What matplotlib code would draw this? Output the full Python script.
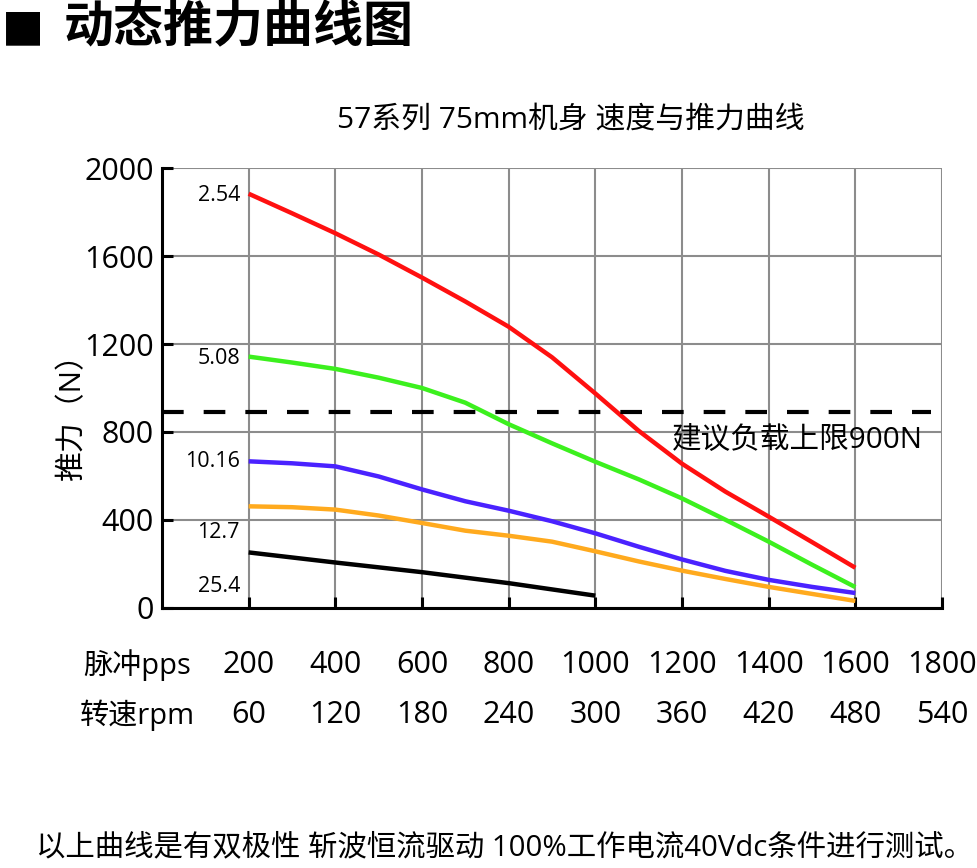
import numpy as np
import matplotlib.pyplot as plt
from matplotlib.transforms import blended_transform_factory

plt.rcParams['font.family'] = ['Open Sans', 'Noto Sans CJK SC', 'DejaVu Sans']

# pulse frequency (pps) and matching speed (rpm)
pps_ticks = [200, 400, 600, 800, 1000, 1200, 1400, 1600, 1800]
rpm_ticks = [60, 120, 180, 240, 300, 360, 420, 480, 540]

pps = [200, 300, 400, 500, 600, 700, 800, 900, 1000, 1100, 1200, 1300, 1400, 1500, 1600]
thrust_254 = [1885, 1796, 1705, 1608, 1503, 1394, 1279, 1140, 975, 805, 655, 528, 414, 298, 181]
thrust_508 = [1143, 1116, 1087, 1047, 1000, 933, 835, 748, 664, 584, 497, 400, 300, 195, 93]
thrust_1016 = [666, 657, 643, 597, 538, 484, 441, 393, 338, 277, 219, 167, 126, 94, 66]
thrust_127 = [461, 457, 446, 419, 385, 350, 327, 300, 256, 210, 168, 130, 94, 62, 30]
pps_black = [200, 400, 600, 800, 1000]
thrust_254b = [251, 205, 161, 111, 54]

leads = ['2.54', '5.08', '10.16', '12.7', '25.4']
lead_label_y = [1879, 1133, 664, 341, 94]
limit = 890

fig = plt.figure(figsize=(9.77, 8.68), dpi=100)
ax = fig.add_axes([0.1658, 0.3001, 0.7984, 0.5058])

kw = dict(lw=3.2, solid_capstyle='butt', solid_joinstyle='round', zorder=3)
ax.plot(pps, thrust_254, color='#FF1010', **kw)
ax.plot(pps, thrust_508, color='#3CF01E', **kw)
ax.plot(pps, thrust_1016, color='#4A22FF', **kw)
ax.plot(pps, thrust_127, color='#FFAA1E', **kw)
ax.plot(pps_black, thrust_254b, color='black', **kw)

ax.plot([0, 1775], [limit, limit], color='black', lw=3, dashes=(5.2, 4.8), zorder=3)
ax.text(1177, 760, '建议负载上限900N', fontsize=21.3, ha='left', va='center')

for lab, yv in zip(leads, lead_label_y):
    ax.text(180, yv, lab, fontsize=15.5, ha='right', va='center')

ax.set_xlim(0, 1800)
ax.set_ylim(0, 2000)
ax.set_xticks(range(0, 1801, 200))
ax.set_yticks(range(0, 2001, 400))
ax.set_xticklabels([])
ax.grid(True, color='#8c8c8c', lw=1.5)
ax.set_axisbelow(True)
for s in ['top', 'right']:
    ax.spines[s].set_visible(False)
for s in ['left', 'bottom']:
    ax.spines[s].set_linewidth(2.2)
    ax.spines[s].set_zorder(4)
ax.tick_params(axis='both', direction='in', length=8, width=2.2)
ax.tick_params(axis='y', labelsize=22, pad=6)
ax.set_xticks(pps_ticks)

fig.text(73 / 977, 1 - 409 / 868, '推力（N）', fontsize=21.5, rotation=90, ha='center', va='center')

trans = blended_transform_factory(ax.transData, fig.transFigure)
for p, r in zip(pps_ticks, rpm_ticks):
    ax.text(p, 1 - 665 / 868, str(p), transform=trans, fontsize=22, ha='center', va='center')
    ax.text(p, 1 - 715 / 868, str(r), transform=trans, fontsize=22, ha='center', va='center')
fig.text(137 / 977, 1 - 665 / 868, '脉冲pps', fontsize=21, ha='center', va='center')
fig.text(137 / 977, 1 - 715 / 868, '转速rpm', fontsize=21, ha='center', va='center')

fig.text(571 / 977, 1 - 120 / 868, '57系列 75mm机身 速度与推力曲线', fontsize=21.5, ha='center', va='center')

fig.text(2 / 977, 1 - 27 / 868, '■', fontsize=32, ha='left', va='center', family=['DejaVu Sans'])
fig.text(64 / 977, 1 - 27 / 868, '动态推力曲线图', fontsize=36, fontweight='heavy',
         ha='left', va='center', family=['Noto Sans CJK SC'])

fig.text(505 / 977, 1 - 848 / 868, '以上曲线是有双极性 斩波恒流驱动 100%工作电流40Vdc条件进行测试。',
         fontsize=21.2, ha='center', va='center')

fig.savefig('out.png', dpi=100)
